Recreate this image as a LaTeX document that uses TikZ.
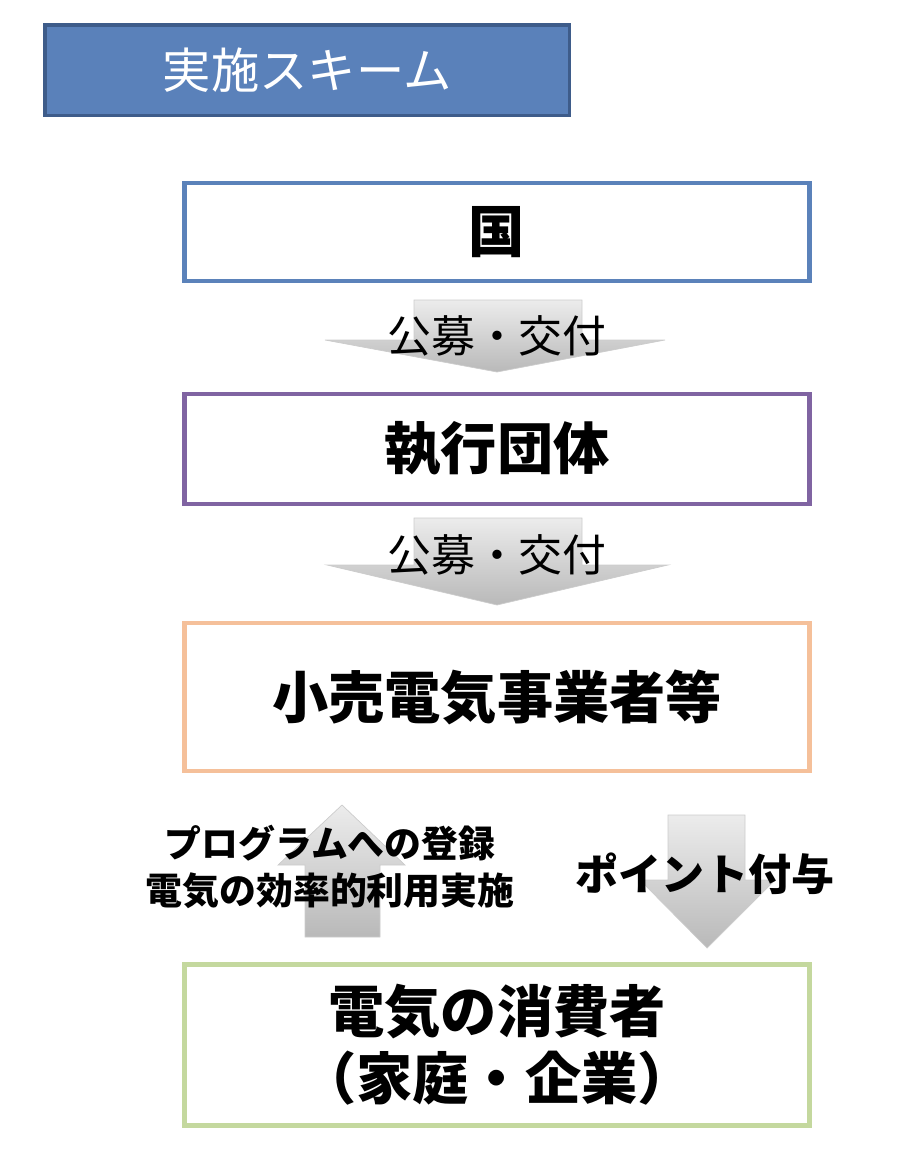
\documentclass[tikz,border=0pt]{standalone}
\usepackage{fontspec}
\setmainfont{Noto Sans CJK JP}
\usetikzlibrary{positioning}
\definecolor{titleblue}{HTML}{5A81BA}
\definecolor{titleedge}{HTML}{3E5C8A}
\definecolor{kuniblue}{HTML}{5B82BA}
\definecolor{execpurple}{HTML}{8064A2}
\definecolor{retailorange}{HTML}{F5C09A}
\definecolor{usergreen}{HTML}{C4D89E}
\tikzset{
    entity/.style={
      rectangle,
      draw, line width=2.4pt,
      minimum width=12.5cm,
      align=center,
      font=\bfseries\fontsize{32}{38}\selectfont,
    },
    blockarrow/.style={
      top color=gray!15, bottom color=gray!55,
      draw=gray!40, line width=0.4pt,
    },
    arrowlabel/.style={
      font=\fontsize{25}{30}\selectfont,
    },
}
\begin{document}
\begin{tikzpicture}[x=0.02cm,y=-0.02cm]
    \useasboundingbox (0,0) rectangle (900,1156);

    % title
    \node[rectangle, fill=titleblue, draw=titleedge, line width=2pt,
      minimum width=10.5cm, minimum height=1.82cm, anchor=north west,
      text=white, font=\fontsize{27.5}{32}\selectfont] (TITLE) at (43,23)
      {実施スキーム};

    % boxes
    \node[entity, draw=kuniblue, minimum height=1.96cm] (KUNI) at (497,232) {国};
    \node[entity, draw=execpurple, minimum height=2.2cm] (EXEC) at (497,449) {執行団体};
    \node[entity, draw=retailorange, minimum height=2.96cm] (RETAIL) at (497,697) {小売電気事業者等};
    \node[entity, draw=usergreen, minimum height=3.22cm,
      font=\bfseries\fontsize{32}{38}\selectfont] (USER) at (497,1045)
      {電気の消費者\\（家庭・企業）};

    % block arrows
    \shade[blockarrow] (414,300) -- (582,300) -- (582,340) -- (665,340)
      -- (497,372) -- (325,340) -- (414,340) -- cycle;
    \shade[blockarrow] (414,518) -- (582,518) -- (582,565) -- (668,565)
      -- (497,605) -- (327,565) -- (414,565) -- cycle;
    \shade[blockarrow] (305,937) -- (380,937) -- (380,865) -- (405,865)
      -- (342,805) -- (278,865) -- (305,865) -- cycle;
    \shade[blockarrow] (668,815) -- (745,815) -- (745,880) -- (775,880)
      -- (707,948) -- (640,880) -- (668,880) -- cycle;

    % labels
    \node[arrowlabel] (L1) at (497,336) {公募・交付};
    \node[arrowlabel] (L2) at (497,555) {公募・交付};
    \node[align=center, font=\bfseries\fontsize{21}{27}\selectfont] (L3) at (330,867)
      {プログラムへの登録\\電気の効率的利用実施};
    \node[font=\bfseries\fontsize{24.5}{30}\selectfont] (L4) at (705,874) {ポイント付与};
\end{tikzpicture}
\end{document}
